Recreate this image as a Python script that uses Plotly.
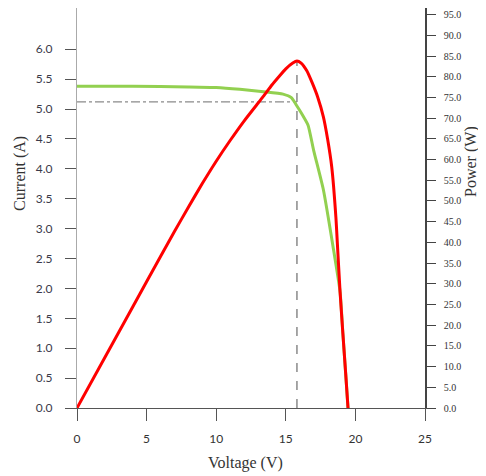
import plotly.graph_objects as go

# Current (I-V) curve
v_iv = [0, 4, 8, 10, 11.7, 13.4, 14.8, 15.4, 15.8, 16.2, 16.6, 17.0, 17.7, 18.4, 18.9, 19.1, 19.3, 19.47]
current = [5.38, 5.38, 5.37, 5.36, 5.33, 5.29, 5.25, 5.19, 5.05, 4.9, 4.73, 4.31, 3.65, 2.69, 1.94, 1.25, 0.58, 0.0]

# Power (P-V) curve
v_pv = [0, 2, 4, 6, 7, 8, 9, 10, 11, 12, 13, 13.4, 14, 14.5, 15.0, 15.5, 15.8, 16.1, 16.5, 16.9, 17.3, 17.7, 18.0, 18.3, 18.6, 18.7, 18.9, 19.1, 19.3, 19.47]
power = [0, 12.2, 24.4, 36.6, 42.6, 48.5, 54.2, 59.6, 64.6, 69.3, 73.6, 75.3, 78.0, 80.0, 81.9, 83.3, 83.8, 83.3, 81.5, 78.5, 75, 70.3, 65, 58.2, 46, 40, 28, 18, 8.4, 0]

# Maximum power point markers
v_mpp = 15.8
i_mpp = 5.12
p_mpp = 83.8

x_ticks = [0, 5, 10, 15, 20, 25]
i_ticks = [0, 0.5, 1, 1.5, 2, 2.5, 3, 3.5, 4, 4.5, 5, 5.5, 6]
p_ticks = list(range(0, 100, 5))

title_font = dict(family="Liberation Serif", size=16, color="#333")

fig = go.Figure()
fig.add_trace(go.Scatter(x=v_iv, y=current, mode="lines",
                         line=dict(color="#92D050", width=3, shape="spline", smoothing=0.5),
                         yaxis="y", showlegend=False))
fig.add_trace(go.Scatter(x=v_pv, y=power, mode="lines",
                         line=dict(color="#FF0000", width=3, shape="spline", smoothing=0.5),
                         yaxis="y2", showlegend=False))

fig.add_shape(type="line", xref="x", yref="y", x0=0, x1=v_mpp, y0=i_mpp, y1=i_mpp,
              line=dict(color="#8a8a8a", width=1.3, dash="dashdot"), layer="below")
fig.add_shape(type="line", xref="x", yref="y2", x0=v_mpp, x1=v_mpp, y0=0, y1=p_mpp,
              line=dict(color="#8a8a8a", width=1.5, dash="dash"), layer="below")

fig.add_annotation(text="Current (A)", xref="paper", yref="paper", x=-0.164, y=0.5875,
                   textangle=-90, showarrow=False, font=title_font, xanchor="center", yanchor="middle")
fig.add_annotation(text="Power (W)", xref="paper", yref="paper", x=1.132, y=0.6175,
                   textangle=-90, showarrow=False, font=title_font, xanchor="center", yanchor="middle",
                   borderpad=0)
fig.add_annotation(text="Voltage (V)", xref="paper", yref="paper", x=0.483, y=-0.1375,
                   showarrow=False, font=title_font, xanchor="center", yanchor="middle")

# The page body adds an 8 px offset, so the figure is 8 px smaller and margins shifted
fig.update_layout(
    width=478, height=468,
    margin=dict(l=69, r=61, t=0, b=68, autoexpand=False),
    paper_bgcolor="white", plot_bgcolor="white",
    xaxis=dict(range=[0, 25], tickvals=x_ticks, ticks="outside", ticklen=12, tickcolor="#555",
               showline=True, linecolor="#555", linewidth=1, showgrid=False, zeroline=False,
               automargin=False,
               tickfont=dict(family="Lato", size=12, color="#333"), ticklabelstandoff=8),
    yaxis=dict(range=[0, 6.69], tickvals=i_ticks, tickformat=".1f", ticks="outside", ticklen=11,
               tickcolor="#555", showline=True, linecolor="#aaa", linewidth=1, showgrid=False,
               zeroline=False, automargin=False,
               tickfont=dict(family="Lato", size=12, color="#3a3a4a"), ticklabelstandoff=10),
    yaxis2=dict(range=[0, 96.6], tickvals=p_ticks, tickformat=".1f", ticks="outside", ticklen=9,
                tickcolor="#444", overlaying="y", side="right", showline=True, linecolor="#444",
                linewidth=1.5, showgrid=False, zeroline=False, automargin=False,
                tickfont=dict(family="Liberation Serif", size=10, color="#333"), ticklabelstandoff=6),
)

fig.write_html("out.html")
